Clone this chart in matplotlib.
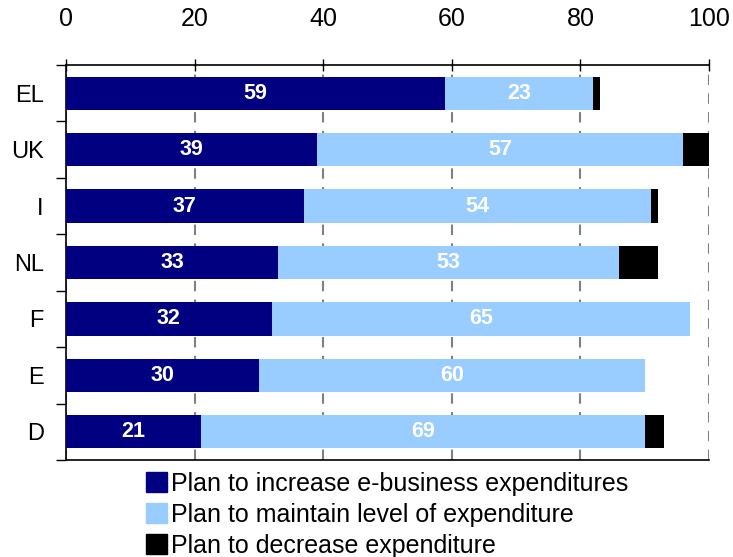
import matplotlib
matplotlib.use("Agg")
import matplotlib.pyplot as plt
import numpy as np

plt.rcParams['font.family'] = ['Liberation Sans', 'DejaVu Sans']

countries = ["EL", "UK", "I", "NL", "F", "E", "D"]
increase = [59, 39, 37, 33, 32, 30, 21]
maintain = [23, 57, 54, 53, 65, 60, 69]
decrease = [1, 4, 1, 6, 0, 0, 3]
series_names = ["Plan to increase e-business expenditures",
                "Plan to maintain level of expenditure",
                "Plan to decrease expenditure"]
colors = ["#000080", "#99CCFF", "#000000"]
xticks = [0, 20, 40, 60, 80, 100]

fig = plt.figure(figsize=(7.33, 5.57), dpi=100)
ax = fig.add_axes([66 / 733, 1 - 460 / 557, (709 - 66) / 733, (460 - 65) / 557])

y = np.arange(len(countries))
h = 0.59
inc = np.array(increase, dtype=float)
mnt = np.array(maintain, dtype=float)
dec = np.array(decrease, dtype=float)

ax.barh(y, inc, height=h, color=colors[0], label=series_names[0], zorder=3)
ax.barh(y, mnt, left=inc, height=h, color=colors[1], label=series_names[1], zorder=3)
ax.barh(y, dec, left=inc + mnt, height=h, color=colors[2], label=series_names[2], zorder=3)

for vals, lefts in ((inc, np.zeros_like(inc)), (mnt, inc)):
    for yi, v, l in zip(y, vals, lefts):
        ax.text(l + v / 2, yi, f"{int(v)}", ha="center", va="center",
                color="white", fontsize=15.5, fontweight="bold", zorder=4)

ax.set_xlim(0, 100)
ax.set_ylim(len(countries) - 0.5, -0.5)
ax.xaxis.tick_top()
ax.set_xticks(xticks)
ax.set_xticklabels([str(t) for t in xticks], fontsize=18)
ax.tick_params(axis="x", direction="inout", length=9, width=1, pad=20, top=True, bottom=False)

ax.set_yticks(y)
ax.set_yticklabels(countries, fontsize=17)
ax.set_yticks(np.arange(len(countries) + 1) - 0.5, minor=True)
ax.tick_params(axis="y", which="major", length=0, pad=16)
ax.tick_params(axis="y", which="minor", direction="out", length=7, width=1)

ax.grid(axis="x", color="#808080", linestyle=(0, (5, 4)), linewidth=1.5, zorder=1)
ax.spines["right"].set_visible(False)
for s in ("top", "left", "bottom"):
    ax.spines[s].set_linewidth(1.2)
    ax.spines[s].set_color("black")

handles = [plt.Rectangle((0, 0), 1, 1, color=c) for c in colors]
fig.legend(handles, series_names, loc="upper left", bbox_to_anchor=(146 / 733, 1 - 472 / 557),
           frameon=False, fontsize=18, handlelength=0.85, handleheight=0.85,
           handletextpad=0.15, labelspacing=0.27, borderpad=0, borderaxespad=0)

fig.savefig("out.png", dpi=100)
